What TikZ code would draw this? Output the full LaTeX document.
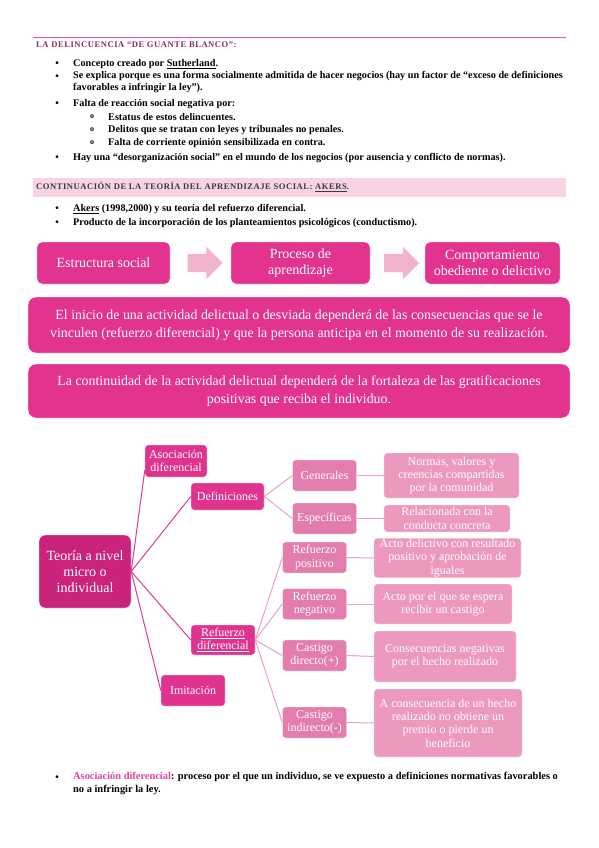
\documentclass[tikz,border=0pt]{standalone}
\usepackage{fontspec}
\setmainfont{Liberation Serif}
\newfontfamily\headfont[LetterSpace=6]{Liberation Serif}
\usepackage{tikz}
\usetikzlibrary{shapes.arrows}
\definecolor{rulepink}{HTML}{E3559A}
\definecolor{headmag}{HTML}{8E2B68}
\definecolor{headgray}{HTML}{3A3A3A}
\definecolor{bandpink}{HTML}{F8D3E6}
\definecolor{flowmag}{HTML}{E2338F}
\definecolor{arrowpink}{HTML}{F2B3CF}
\definecolor{rootmag}{HTML}{C9237B}
\definecolor{lvamag}{HTML}{E0338F}
\definecolor{lvbpink}{HTML}{E37DAE}
\definecolor{lvcpink}{HTML}{EC98BF}
\definecolor{linkmag}{HTML}{E03A93}
\definecolor{linklight}{HTML}{EEA0C5}
\definecolor{asocpink}{HTML}{E8409A}
\tikzset{
  headline/.style={anchor=west,inner sep=0pt,font=\headfont\bfseries\fontsize{8.6}{10}\selectfont},
  dot/.style={anchor=center,inner sep=0pt,font=\bfseries\fontsize{10}{10}\selectfont},
  subdot/.style={anchor=center,inner sep=0pt,font=\bfseries\fontsize{8}{10}\selectfont},
  txt/.style={anchor=west,inner sep=0pt,font=\bfseries\fontsize{10.2}{12.6}\selectfont,align=left},
  flowbox/.style={rounded corners=5pt,fill=flowmag,draw=white,text=white,align=center,
    minimum height=42pt,inner sep=2pt,font=\fontsize{14}{15.7}\selectfont},
  flowarrow/.style={single arrow,fill=arrowpink,minimum height=35pt,
    single arrow head extend=7pt,inner xsep=0pt,inner ysep=9pt},
  bigbox/.style={rounded corners=8pt,fill=flowmag,draw=white,text=white,align=center,
    minimum width=542pt,inner sep=2pt,font=\fontsize{13.9}{18}\selectfont},
  tnode/.style={rounded corners=3pt,draw=white,text=white,align=center,inner sep=1pt,
    font=\fontsize{12}{13.3}\selectfont},
  root/.style={tnode,rounded corners=6pt,fill=rootmag,minimum width=92pt,minimum height=73pt,
    font=\fontsize{14}{16}\selectfont},
  lva/.style={tnode,fill=lvamag},
  lvb/.style={tnode,fill=lvbpink,minimum width=64pt,minimum height=31pt},
  lvc/.style={tnode,fill=lvcpink},
  link/.style={draw=linkmag,line width=1pt},
  sublink/.style={draw=linklight,line width=1pt}
}
\begin{document}
\begin{tikzpicture}[x=1pt,y=-1pt]
  \useasboundingbox[fill=white] (0,0) rectangle (599,848);
  % Header rule and title
  \draw[rulepink,line width=0.8pt] (33,37) -- (566,37);
  \node[headline,text=headmag] (head1) at (36,45) {LA DELINCUENCIA “DE GUANTE BLANCO”:};
  % First list
  \node[dot] (d1) at (57,64) {•};
  \node[txt] (it1) at (73,64) {Concepto creado por \underline{Sutherland}.};
  \node[dot] (d2) at (57,77) {•};
  \node[txt,anchor=north west] (it2) at (73,71) {Se explica porque es una forma socialmente admitida de hacer negocios (hay un factor de “exceso de definiciones\\favorables a infringir la ley”).};
  \node[dot] (d3) at (57,104) {•};
  \node[txt] (it3) at (73,104) {Falta de reacción social negativa por:};
  \node[subdot] (s1) at (92,117) {o};
  \node[txt] (it4) at (108,117) {Estatus de estos delincuentes.};
  \node[subdot] (s2) at (92,130) {o};
  \node[txt] (it5) at (108,130) {Delitos que se tratan con leyes y tribunales no penales.};
  \node[subdot] (s3) at (92,143) {o};
  \node[txt] (it6) at (108,143) {Falta de corriente opinión sensibilizada en contra.};
  \node[dot] (d4) at (57,158) {•};
  \node[txt] (it7) at (73,158) {Hay una “desorganización social” en el mundo de los negocios (por ausencia y conflicto de normas).};
  % Second heading band
  \fill[bandpink] (33,178) rectangle (566,197);
  \node[headline,text=headgray] (head2) at (36,187) {CONTINUACIÓN DE LA TEORÍA DEL APRENDIZAJE SOCIAL: \underline{AKERS}.};
  \node[dot] (d5) at (57,209) {•};
  \node[txt] (it8) at (73,209) {\underline{Akers} (1998,2000) y su teoría del refuerzo diferencial.};
  \node[dot] (d6) at (57,223) {•};
  \node[txt] (it9) at (73,223) {Producto de la incorporación de los planteamientos psicológicos (conductismo).};
  % Process row
  \node[flowbox,minimum width=133pt] (estr) at (103.5,263) {Estructura social};
  \node[flowarrow] (ar1) at (200.5,263) {};
  \node[flowbox,minimum width=139pt] (proc) at (300.5,263) {Proceso de\\aprendizaje};
  \node[flowarrow] (ar2) at (397,263) {};
  \node[flowbox,minimum width=135pt] (comp) at (492.5,263) {Comportamiento\\obediente o delictivo};
  % Statements
  \node[bigbox,minimum height=56pt] (inicio) at (299,325) {El inicio de una actividad delictual o desviada dependerá de las consecuencias que se le\\vinculen (refuerzo diferencial) y que la persona anticipa en el momento de su realización.};
  \node[bigbox,minimum height=54pt] (contin) at (299,391) {La continuidad de la actividad delictual dependerá de la fortaleza de las gratificaciones\\positivas que reciba el individuo.};
  % Hierarchy
  \node[root] (teoria) at (85,571.5) {Teoría a nivel\\micro o\\individual};
  \node[lva,minimum width=62pt,minimum height=32pt] (asoc) at (176,461) {Asociación\\diferencial};
  \node[lva,minimum width=73pt,minimum height=27pt] (defin) at (227.5,496.5) {Definiciones};
  \node[lva,minimum width=64pt,minimum height=30pt] (refdif) at (223,640) {\underline{Refuerzo}\\\underline{diferencial}};
  \node[lva,minimum width=64pt,minimum height=31pt] (imit) at (193,690.5) {Imitación};
  \node[lvb] (gen) at (324.5,475.5) {Generales};
  \node[lvb] (esp) at (324.5,518.5) {Específicas};
  \node[lvb] (rpos) at (314.5,557.5) {Refuerzo\\positivo};
  \node[lvb] (rneg) at (314.5,604) {Refuerzo\\negativo};
  \node[lvb] (cdir) at (314.5,655.5) {Castigo\\directo(+)};
  \node[lvb] (cind) at (314.5,722.5) {Castigo\\indirecto(-)};
  \node[lvc,minimum width=135pt,minimum height=45pt] (normas) at (451.5,475.5) {Normas, valores y\\creencias compartidas\\por la comunidad};
  \node[lvc,minimum width=126pt,minimum height=27pt] (relac) at (447,518.5) {Relacionada con la\\conducta concreta};
  \node[lvc,minimum width=147pt,minimum height=38pt] (actpos) at (447.5,558) {Acto delictivo con resultado\\positivo y aprobación de\\iguales};
  \node[lvc,minimum width=138pt,minimum height=40pt] (actneg) at (443,604) {Acto por el que se espera\\recibir un castigo};
  \node[lvc,minimum width=142pt,minimum height=51pt] (consec) at (445,656.5) {Consecuencias negativas\\por el hecho realizado};
  \node[lvc,minimum width=148pt,minimum height=68pt] (premio) at (448,723) {A consecuencia de un hecho\\realizado no obtiene un\\premio o pierde un\\beneficio};
  % Connectors
  \draw[link] (teoria.east) -- ([yshift=-9pt]asoc.west);
  \draw[link] (teoria.east) -- (defin.west);
  \draw[link] (teoria.east) -- (refdif.west);
  \draw[link] (teoria.east) -- (imit.west);
  \draw[sublink] (defin.east) -- (gen.west);
  \draw[sublink] (defin.east) -- (esp.west);
  \foreach \n in {rpos,rneg,cdir,cind}
    \draw[sublink] (refdif.east) -- (\n.west);
  \draw[sublink] (gen.east) -- (normas.west);
  \draw[sublink] (esp.east) -- (relac.west);
  \draw[sublink] (rpos.east) -- (actpos.west);
  \draw[sublink] (rneg.east) -- (actneg.west);
  \draw[sublink] (cdir.east) -- (consec.west);
  \draw[sublink] (cind.east) -- (premio.west);
  % Closing note
  \node[dot] (d7) at (57,778) {•};
  \node[txt,anchor=north west,font=\bfseries\fontsize{10.4}{12.6}\selectfont] (it10) at (73,772) {{\color{asocpink}Asociación diferencial}: proceso por el que un individuo, se ve expuesto a definiciones normativas favorables o\\no a infringir la ley.};
\end{tikzpicture}
\end{document}
